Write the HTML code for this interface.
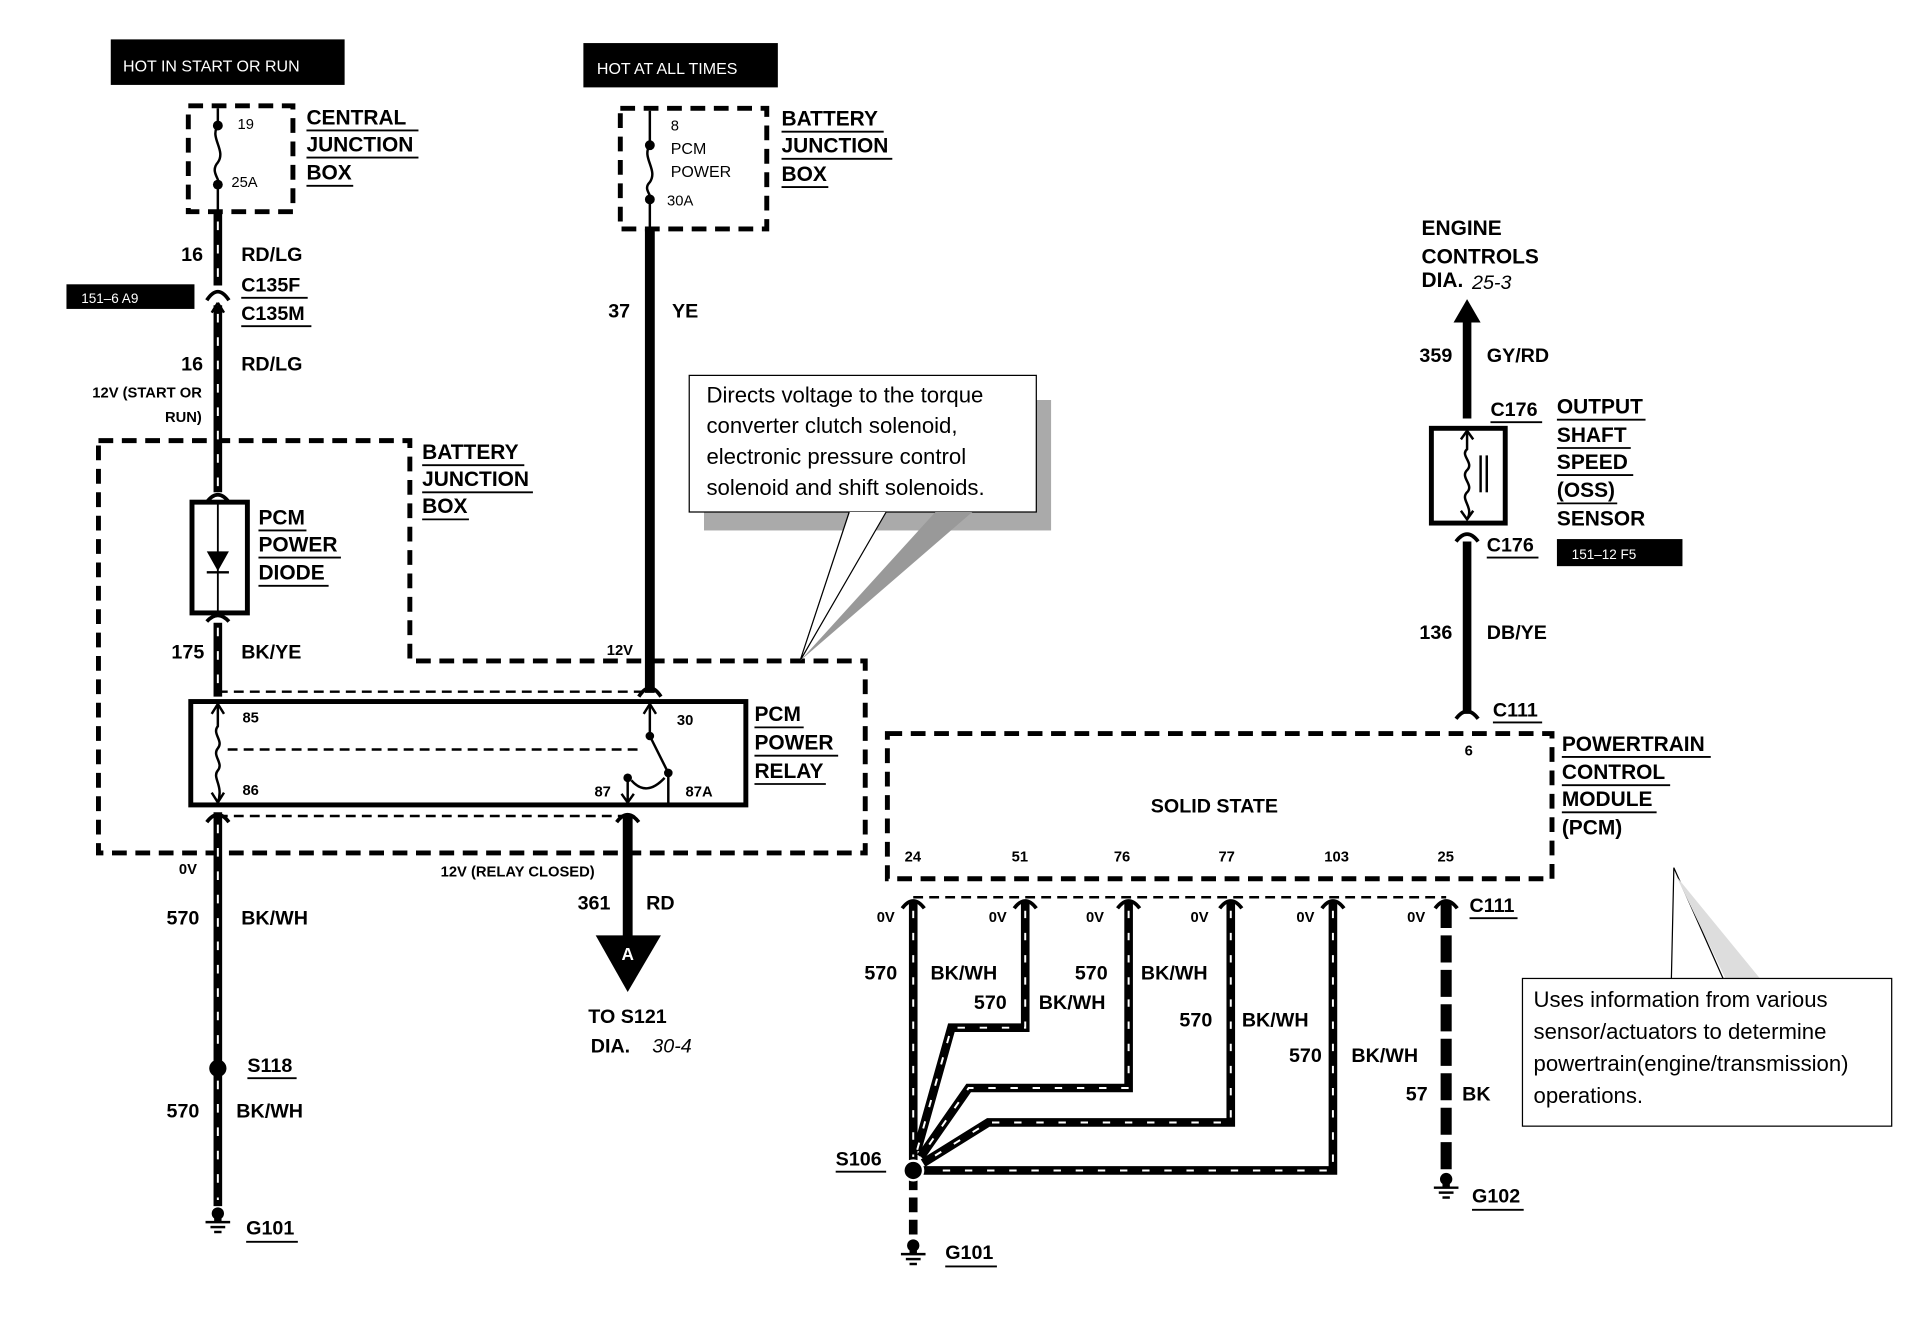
<!DOCTYPE html>
<html><head><meta charset="utf-8"><style>
html,body{margin:0;padding:0;background:#fff;}
svg{display:block;}
text{font-family:"Liberation Sans",sans-serif;font-weight:bold;fill:#000;}
.n{font-weight:normal;}
</style></head><body>
<svg width="1920" height="1344" viewBox="0 0 1560 1092" xmlns="http://www.w3.org/2000/svg">
<defs>
<g id="gnd"><rect x="-3" y="-9" width="6" height="10" fill="#000"/><circle cx="0" cy="-6" r="5" fill="#000"/><line x1="-10" y1="1" x2="10" y2="1" stroke="#000" stroke-width="2"/><line x1="-6" y1="5" x2="6" y2="5" stroke="#000" stroke-width="2"/><line x1="-3" y1="9" x2="3" y2="9" stroke="#000" stroke-width="2"/></g>
</defs>
<rect width="1560" height="1092" fill="#fff"/>

<rect x="90" y="32" width="190" height="37" fill="#000"/>
<text x="100" y="58" class="n" font-size="13" style="fill:#fff">HOT IN START OR RUN</text>
<rect x="474" y="35" width="158" height="36" fill="#000"/>
<text x="485" y="60" class="n" font-size="13" style="fill:#fff">HOT AT ALL TIMES</text>

<g fill="none" stroke="#000" stroke-width="4" stroke-dasharray="12 7">
<rect x="153" y="86" width="85" height="86"/>
<rect x="504" y="88" width="119" height="98"/>
<path d="M80 358 H333 V537 H703 V693 H80 Z"/>
<rect x="721" y="596" width="540" height="118"/>
</g>

<g stroke="#000" stroke-width="2" fill="none">
<path d="M177 88 V102 C170 112 184 122 177 132 C170 140 180 146 177 150 V172"/>
<path d="M528 90 V118 C521 128 535 138 528 148 C522 154 530 158 528 162 V186"/>
</g>
<circle cx="177" cy="102" r="4"/><circle cx="177" cy="150" r="4"/>
<circle cx="528" cy="118" r="4"/><circle cx="528" cy="162" r="4"/>
<text x="193" y="105" class="n" font-size="12">19</text>
<text x="188" y="152" class="n" font-size="12">25A</text>
<text x="545" y="106" class="n" font-size="12">8</text>
<text x="545" y="125" class="n" font-size="13">PCM</text>
<text x="545" y="144" class="n" font-size="13">POWER</text>
<text x="542" y="167" class="n" font-size="12">30A</text>

<g font-size="17">
<text x="249" y="101">CENTRAL</text><text x="249" y="123">JUNCTION</text><text x="249" y="146">BOX</text>
<text x="635" y="102">BATTERY</text><text x="635" y="124">JUNCTION</text><text x="635" y="147">BOX</text>
<text x="343" y="373">BATTERY</text><text x="343" y="395">JUNCTION</text><text x="343" y="417">BOX</text>
<text x="210" y="426">PCM</text><text x="210" y="448">POWER</text><text x="210" y="471">DIODE</text>
<text x="613" y="586">PCM</text><text x="613" y="609">POWER</text><text x="613" y="632">RELAY</text>
<text x="1155" y="191">ENGINE</text><text x="1155" y="214">CONTROLS</text>
<text x="1265" y="336">OUTPUT</text><text x="1265" y="359">SHAFT</text><text x="1265" y="381">SPEED</text><text x="1265" y="404">(OSS)</text><text x="1265" y="427">SENSOR</text>
<text x="1269" y="610">POWERTRAIN</text><text x="1269" y="633">CONTROL</text><text x="1269" y="655">MODULE</text><text x="1269" y="678">(PCM)</text>
</g>
<g stroke="#000" stroke-width="1.5">
<line x1="249" y1="106" x2="340" y2="106"/><line x1="249" y1="128" x2="340" y2="128"/><line x1="249" y1="151" x2="287" y2="151"/>
<line x1="635" y1="107" x2="718" y2="107"/><line x1="635" y1="129" x2="725" y2="129"/><line x1="635" y1="152" x2="673" y2="152"/>
<line x1="343" y1="378" x2="426" y2="378"/><line x1="343" y1="400" x2="433" y2="400"/><line x1="343" y1="422" x2="381" y2="422"/>
<line x1="210" y1="431" x2="249" y2="431"/><line x1="210" y1="453" x2="277" y2="453"/><line x1="210" y1="476" x2="267" y2="476"/>
<line x1="613" y1="591" x2="653" y2="591"/><line x1="613" y1="614" x2="681" y2="614"/><line x1="613" y1="637" x2="671" y2="637"/>
<line x1="1265" y1="341" x2="1337" y2="341"/><line x1="1265" y1="364" x2="1325" y2="364"/><line x1="1265" y1="386" x2="1327" y2="386"/><line x1="1265" y1="409" x2="1314" y2="409"/>
<line x1="1269" y1="615" x2="1390" y2="615"/><line x1="1269" y1="638" x2="1357" y2="638"/><line x1="1269" y1="660" x2="1346" y2="660"/>
</g>
<text x="1155" y="233" font-size="17">DIA.</text><text x="1196" y="235" class="n" font-size="16" font-style="italic">25-3</text>

<g stroke="#000" stroke-width="7" fill="none">
<line x1="177" y1="172" x2="177" y2="232"/>
<line x1="177" y1="248" x2="177" y2="400"/>
<line x1="177" y1="506" x2="177" y2="566"/>
<line x1="177" y1="660" x2="177" y2="868"/>
<line x1="177" y1="868" x2="177" y2="980"/>
</g>
<g stroke="#fff" stroke-width="1.6" stroke-dasharray="7 12" fill="none">
<line x1="177" y1="180" x2="177" y2="232"/><line x1="177" y1="255" x2="177" y2="400"/><line x1="177" y1="510" x2="177" y2="566"/><line x1="177" y1="670" x2="177" y2="860"/><line x1="177" y1="878" x2="177" y2="975"/>
</g>
<path d="M168 244 Q177 230 186 244" stroke="#000" stroke-width="3" fill="none"/>
<path d="M177 246 l-5 8 M177 246 l5 8" stroke="#000" stroke-width="2"/>
<circle cx="177" cy="868" r="7"/>
<use href="#gnd" x="177" y="992"/>
<rect x="156" y="408" width="45" height="90" fill="none" stroke="#000" stroke-width="4"/>
<line x1="177" y1="408" x2="177" y2="498" stroke="#000" stroke-width="1.5"/>
<path d="M168 448 H186 L177 464 Z"/><line x1="168" y1="465" x2="186" y2="465" stroke="#000" stroke-width="2"/>
<path d="M168 408 Q177 396 186 408 M168 505 Q177 495 186 505" stroke="#000" stroke-width="3" fill="none"/>

<rect x="54" y="231" width="104" height="20" fill="#000"/>
<text x="66" y="246" class="n" font-size="11" style="fill:#fff">151–6 A9</text>
<g font-size="16">
<text x="165" y="212" text-anchor="end">16</text><text x="196" y="212">RD/LG</text>
<text x="196" y="237">C135F</text><text x="196" y="260">C135M</text>
<text x="165" y="301" text-anchor="end">16</text><text x="196" y="301">RD/LG</text>
<text x="166" y="535" text-anchor="end">175</text><text x="196" y="535">BK/YE</text>
<text x="162" y="751" text-anchor="end">570</text><text x="196" y="751">BK/WH</text>
<text x="201" y="871">S118</text>
<text x="162" y="908" text-anchor="end">570</text><text x="192" y="908">BK/WH</text>
<text x="200" y="1003">G101</text>
</g>
<line x1="196" y1="242" x2="250" y2="242" stroke="#000" stroke-width="1.5"/><line x1="196" y1="265" x2="253" y2="265" stroke="#000" stroke-width="1.5"/>
<line x1="201" y1="876" x2="241" y2="876" stroke="#000" stroke-width="1.5"/><line x1="200" y1="1009" x2="242" y2="1009" stroke="#000" stroke-width="1.5"/>
<text x="164" y="323" font-size="12" text-anchor="end">12V (START OR</text>
<text x="164" y="343" font-size="12" text-anchor="end">RUN)</text>
<text x="160" y="710" font-size="12" text-anchor="end">0V</text>

<line x1="528" y1="186" x2="528" y2="563" stroke="#000" stroke-width="8"/>
<path d="M519 566 Q528 552 537 566" stroke="#000" stroke-width="3" fill="none"/>
<g font-size="16"><text x="512" y="258" text-anchor="end">37</text><text x="546" y="258">YE</text></g>
<text x="493" y="532" font-size="12">12V</text>

<line x1="177" y1="562" x2="528" y2="562" stroke="#000" stroke-width="2" stroke-dasharray="8 5"/>
<line x1="177" y1="663" x2="510" y2="663" stroke="#000" stroke-width="2" stroke-dasharray="8 5"/>
<rect x="155" y="570" width="451" height="84" fill="none" stroke="#000" stroke-width="4"/>
<g stroke="#000" stroke-width="2" fill="none">
<path d="M177 572 V590 C172 596 182 602 177 608 C172 614 182 620 177 626 C172 632 182 638 177 652"/>
<path d="M172 580 L177 572 L182 580 M172 644 L177 652 L182 644"/>
<line x1="185" y1="609" x2="520" y2="609" stroke-dasharray="8 5"/>
<path d="M528 572 V598 L543 628 V654"/>
<path d="M523 580 L528 572 L533 580"/>
<path d="M510 634 V652 M505 645 L510 652 L515 645"/>
<path d="M513 634 Q525 648 540 632"/>
</g>
<circle cx="528" cy="598" r="3.5"/><circle cx="543" cy="628" r="3.5"/><circle cx="510" cy="632" r="3.5"/>
<g font-size="12" class="n"><text x="197" y="587">85</text><text x="197" y="646">86</text><text x="550" y="589">30</text><text x="483" y="647">87</text><text x="557" y="647">87A</text></g>
<path d="M168 668 Q177 656 186 668 M501 668 Q510 656 519 668" stroke="#000" stroke-width="3" fill="none"/>
<line x1="510" y1="662" x2="510" y2="762" stroke="#000" stroke-width="8"/>
<path d="M484 760 H537 L510 806 Z"/>
<text x="510" y="780" font-size="14" text-anchor="middle" style="fill:#fff">A</text>
<text x="358" y="712" font-size="12">12V (RELAY CLOSED)</text>
<g font-size="16"><text x="496" y="739" text-anchor="end">361</text><text x="525" y="739">RD</text><text x="478" y="831">TO S121</text><text x="480" y="855">DIA.</text></g>
<text x="530" y="855" class="n" font-size="16" font-style="italic">30-4</text>

<rect x="572" y="325" width="282" height="106" fill="#aaa"/>
<rect x="560" y="305" width="282" height="111" fill="#fff" stroke="#000" stroke-width="1"/>
<path d="M690 416 L650 537 L720 416" fill="#fff" stroke="#000" stroke-width="1"/>
<path d="M760 416 L650 537 L790 416 Z" fill="#999"/>
<g font-size="18">
<text x="574" y="327" class="n">Directs voltage to the torque</text>
<text x="574" y="352" class="n">converter clutch solenoid,</text>
<text x="574" y="377" class="n">electronic pressure control</text>
<text x="574" y="402" class="n">solenoid and shift solenoids.</text>
</g>

<path d="M1181 262 L1192 243 L1203 262 Z"/>
<line x1="1192" y1="258" x2="1192" y2="340" stroke="#000" stroke-width="7"/>
<g font-size="16"><text x="1180" y="294" text-anchor="end">359</text><text x="1208" y="294">GY/RD</text>
<text x="1211" y="338">C176</text><text x="1208" y="448">C176</text>
<text x="1180" y="519" text-anchor="end">136</text><text x="1208" y="519">DB/YE</text><text x="1213" y="582">C111</text></g>
<line x1="1211" y1="343" x2="1253" y2="343" stroke="#000" stroke-width="1.5"/><line x1="1208" y1="453" x2="1250" y2="453" stroke="#000" stroke-width="1.5"/><line x1="1213" y1="587" x2="1253" y2="587" stroke="#000" stroke-width="1.5"/>
<rect x="1163" y="348" width="60" height="77" fill="none" stroke="#000" stroke-width="4"/>
<g stroke="#000" stroke-width="2" fill="none">
<path d="M1192 350 V365 C1186 370 1198 376 1192 382 C1186 388 1198 394 1192 400 C1186 406 1198 412 1192 422"/>
<path d="M1187 357 L1192 350 L1197 357 M1187 415 L1192 422 L1197 415"/>
<line x1="1203" y1="370" x2="1203" y2="400"/><line x1="1208" y1="370" x2="1208" y2="400"/>
</g>
<line x1="1192" y1="440" x2="1192" y2="580" stroke="#000" stroke-width="7"/>
<path d="M1183 440 Q1192 428 1201 440 M1183 584 Q1192 572 1201 584" stroke="#000" stroke-width="3" fill="none"/>
<rect x="1265" y="438" width="102" height="22" fill="#000"/>
<text x="1277" y="454" class="n" font-size="11" style="fill:#fff">151–12 F5</text>

<text x="935" y="660" font-size="16">SOLID STATE</text>
<g class="n" font-size="12"><text x="1190" y="614">6</text><text x="735" y="700">24</text><text x="822" y="700">51</text><text x="905" y="700">76</text><text x="990" y="700">77</text><text x="1076" y="700">103</text><text x="1168" y="700">25</text></g>

<line x1="742" y1="729" x2="1175" y2="729" stroke="#000" stroke-width="2" stroke-dasharray="8 5"/>
<g stroke="#000" stroke-width="7" fill="none" stroke-linejoin="miter">
<path d="M742 732 V950"/>
<path d="M833 732 V835 H773 L745 935"/>
<path d="M917 732 V884 H787 L748 940"/>
<path d="M1000 732 V912 H803 L750 945"/>
<path d="M1083 732 V951 H748"/>
<path d="M742 955 V1010" stroke-dasharray="12 6"/>
<path d="M1175 732 V955" stroke-dasharray="22 6" stroke-width="9"/>
</g>
<g stroke="#fff" stroke-width="1.6" fill="none" stroke-dasharray="6 12">
<path d="M742 740 V940"/><path d="M833 740 V835 H773 L745 935"/><path d="M917 740 V884 H787 L748 940"/><path d="M1000 740 V912 H803 L750 945"/><path d="M1083 740 V951 H760"/>
</g>
<g fill="none" stroke="#000" stroke-width="3">
<path d="M733 738 Q742 726 751 738 M824 738 Q833 726 842 738 M908 738 Q917 726 926 738 M991 738 Q1000 726 1009 738 M1074 738 Q1083 726 1092 738 M1166 738 Q1175 726 1184 738"/>
</g>
<circle cx="742" cy="951" r="8" stroke="#fff" stroke-width="2"/>
<use href="#gnd" x="742" y="1018"/>
<use href="#gnd" x="1175" y="964"/>
<g class="n" font-size="12"><text x="727" y="749" text-anchor="end">0V</text><text x="818" y="749" text-anchor="end">0V</text><text x="897" y="749" text-anchor="end">0V</text><text x="982" y="749" text-anchor="end">0V</text><text x="1068" y="749" text-anchor="end">0V</text><text x="1158" y="749" text-anchor="end">0V</text></g>
<g font-size="16">
<text x="1194" y="741">C111</text>
<text x="729" y="796" text-anchor="end">570</text><text x="756" y="796">BK/WH</text>
<text x="818" y="820" text-anchor="end">570</text><text x="844" y="820">BK/WH</text>
<text x="900" y="796" text-anchor="end">570</text><text x="927" y="796">BK/WH</text>
<text x="985" y="834" text-anchor="end">570</text><text x="1009" y="834">BK/WH</text>
<text x="1074" y="863" text-anchor="end">570</text><text x="1098" y="863">BK/WH</text>
<text x="1160" y="894" text-anchor="end">57</text><text x="1188" y="894">BK</text>
<text x="679" y="947">S106</text><text x="768" y="1023">G101</text><text x="1196" y="977">G102</text>
</g>
<g stroke="#000" stroke-width="1.5"><line x1="1194" y1="746" x2="1233" y2="746"/><line x1="679" y1="952" x2="720" y2="952"/><line x1="768" y1="1029" x2="810" y2="1029"/><line x1="1196" y1="983" x2="1238" y2="983"/></g>

<path d="M1358 795 L1360 705 L1400 795" fill="#fff" stroke="#000" stroke-width="1"/>
<path d="M1362 712 L1402 795 L1430 795 Z" fill="#ddd"/>
<rect x="1237" y="795" width="300" height="120" fill="#fff" stroke="#000" stroke-width="1"/>
<g font-size="18"><text x="1246" y="818" class="n">Uses information from various</text><text x="1246" y="844" class="n">sensor/actuators to determine</text><text x="1246" y="870" class="n">powertrain(engine/transmission)</text><text x="1246" y="896" class="n">operations.</text></g>
</svg>
</body></html>
